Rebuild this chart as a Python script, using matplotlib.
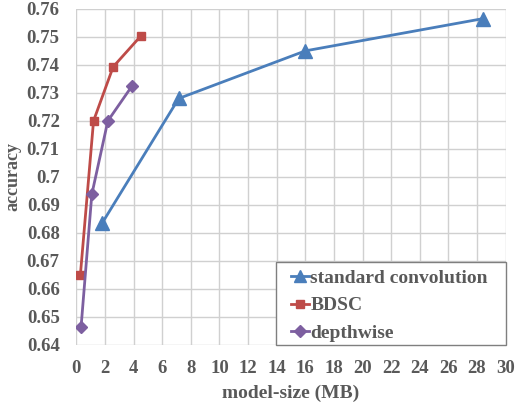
import matplotlib
matplotlib.use("Agg")
import matplotlib.pyplot as plt
from matplotlib.patches import Rectangle

# model size (MB) vs accuracy
std_size = [1.8, 7.15, 16.0, 28.4]
std_acc = [0.6835, 0.728, 0.745, 0.7565]

bdsc_size = [0.28, 1.2, 2.57, 4.5]
bdsc_acc = [0.665, 0.720, 0.7393, 0.7503]

dw_size = [0.33, 1.08, 2.2, 3.88]
dw_acc = [0.6465, 0.6938, 0.720, 0.7324]

x_ticks = list(range(0, 31, 2))
y_ticks = [0.64, 0.65, 0.66, 0.67, 0.68, 0.69, 0.70, 0.71, 0.72, 0.73, 0.74, 0.75, 0.76]
y_labels = ["0.64", "0.65", "0.66", "0.67", "0.68", "0.69", "0.7", "0.71",
            "0.72", "0.73", "0.74", "0.75", "0.76"]

plt.rcParams["font.family"] = "Liberation Serif"
plt.rcParams["font.weight"] = "bold"
TXT = "#595959"
GRID = "#d0d0d0"

fig = plt.figure(figsize=(5.16, 4.03), dpi=100)
ax = fig.add_axes([0.148, 0.144, 0.832, 0.834])

ax.plot(std_size, std_acc, color="#4a7ebb", lw=2, marker="^", ms=9.5, label="standard convolution")
ax.plot(bdsc_size, bdsc_acc, color="#be4b48", lw=2, marker="s", ms=5.8, label="BDSC")
ax.plot(dw_size, dw_acc, color="#7d5fa0", lw=2, marker="D", ms=6.5, label="depthwise")

ax.set_xlim(0, 30)
ax.set_ylim(0.64, 0.76)
ax.set_xticks(x_ticks)
ax.set_yticks(y_ticks)
ax.set_yticklabels(y_labels)
ax.grid(True, color=GRID, lw=1.0)
ax.set_axisbelow(True)
for s in ax.spines.values():
    s.set_visible(False)
ax.tick_params(length=0, labelsize=13.5, labelcolor=TXT)
ax.tick_params(axis="y", pad=12)
ax.tick_params(axis="x", pad=11)
for lbl in ax.get_xticklabels() + ax.get_yticklabels():
    lbl.set_fontweight("bold")

ax.set_xlabel("model-size (MB)", fontsize=14, color=TXT, fontweight="bold")
ax.xaxis.set_label_coords(0.5, -0.118)
ax.set_ylabel("accuracy", fontsize=13, color=TXT, fontweight="bold")
ax.yaxis.set_label_coords(-0.128, 0.5)

# legend box (wider horizontal padding than vertical, like the original)
ax.add_patch(Rectangle((0.465, 0.0), 0.535, 0.247, transform=ax.transAxes,
                       facecolor="white", edgecolor="#7f7f7f", lw=1.0, zorder=4,
                       clip_on=False))
leg = ax.legend(loc="upper left", bbox_to_anchor=(0.5, 0.226), frameon=False,
                fontsize=14, handlelength=0.95, handletextpad=0.05,
                borderaxespad=0, labelspacing=0.52, borderpad=0, markerscale=0.9)
leg.set_zorder(5)
for t in leg.get_texts():
    t.set_color(TXT)
    t.set_fontweight("bold")

fig.savefig("out.png", dpi=100)
